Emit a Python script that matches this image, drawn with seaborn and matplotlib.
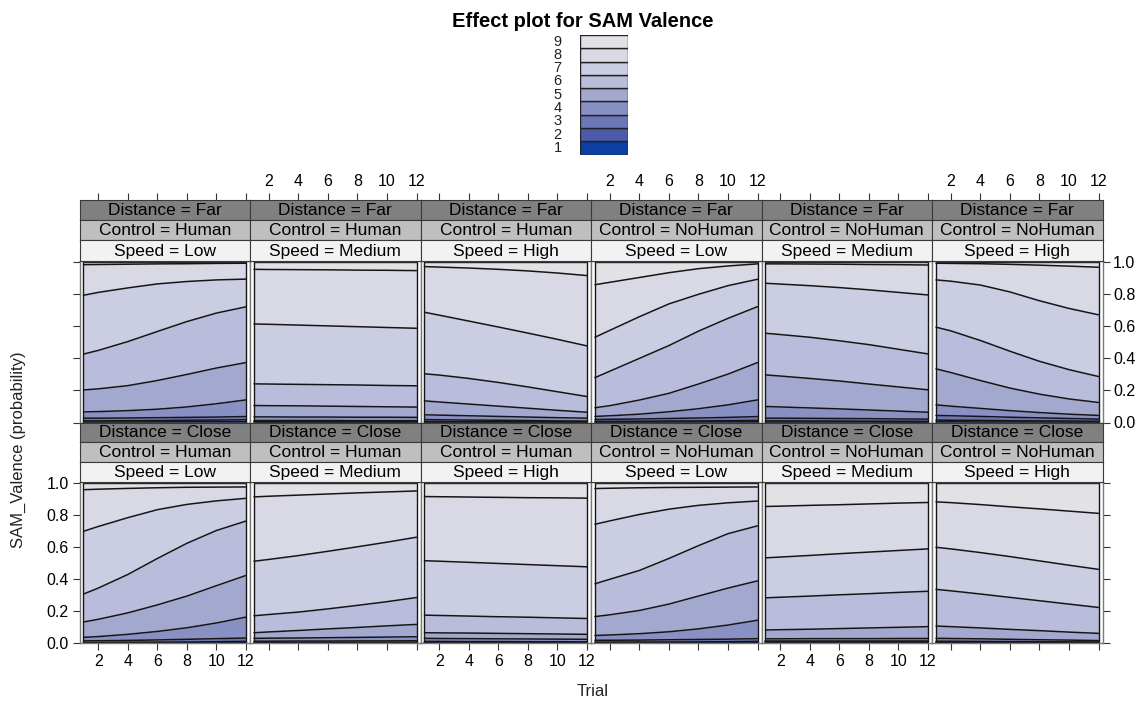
import numpy as np
import pandas as pd
import matplotlib
matplotlib.use("Agg")
import matplotlib.pyplot as plt
import seaborn as sns

# ---------------------------------------------------------------- data
trials = [1, 2, 4, 6, 8, 10, 12]
levels = ["1", "2", "3", "4", "5", "6", "7", "8", "9"]
tick_trials = [2, 4, 6, 8, 10, 12]
y_ticks = [0.0, 0.2, 0.4, 0.6, 0.8, 1.0]

distance_levels = ["Far", "Close"]
control_levels = ["Human", "Human", "Human", "NoHuman", "NoHuman", "NoHuman"]
speed_levels = ["Low", "Medium", "High", "Low", "Medium", "High"]

# cumulative probabilities P(SAM_Valence <= k), k = 1..8, at each trial
far_human_low = [
    [.003, .003, .003, .004, .004, .005, .005],
    [.010, .010, .011, .012, .014, .015, .017],
    [.027, .027, .028, .030, .032, .034, .037],
    [.066, .068, .074, .083, .097, .117, .141],
    [.203, .210, .230, .262, .300, .340, .374],
    [.427, .450, .505, .568, .630, .683, .722],
    [.794, .812, .840, .865, .880, .890, .895],
    [.985, .986, .988, .990, .991, .993, .994],
]
far_human_medium = [
    [.001, .001, .001, .001, .001, .001, .001],
    [.004, .004, .004, .004, .004, .004, .004],
    [.012, .012, .012, .012, .011, .011, .011],
    [.035, .035, .034, .034, .033, .033, .032],
    [.106, .105, .104, .102, .100, .098, .096],
    [.241, .240, .238, .236, .234, .231, .229],
    [.615, .613, .608, .603, .598, .593, .588],
    [.956, .955, .954, .953, .951, .950, .948],
]
far_human_high = [
    [.002, .002, .002, .001, .001, .001, .001],
    [.006, .006, .005, .005, .004, .004, .003],
    [.018, .017, .015, .014, .012, .010, .009],
    [.048, .046, .042, .038, .034, .030, .027],
    [.135, .128, .115, .102, .089, .076, .064],
    [.304, .296, .275, .250, .222, .192, .162],
    [.688, .670, .633, .596, .558, .519, .478],
    [.973, .970, .964, .956, .946, .933, .917],
]
far_nohuman_low = [
    [.002, .002, .002, .003, .003, .004, .004],
    [.007, .007, .008, .009, .010, .011, .013],
    [.019, .020, .022, .025, .028, .032, .037],
    [.038, .042, .052, .067, .086, .110, .141],
    [.092, .105, .140, .182, .240, .302, .374],
    [.280, .320, .400, .480, .570, .650, .723],
    [.532, .575, .660, .740, .800, .854, .894],
    [.860, .875, .905, .935, .960, .977, .990],
]
far_nohuman_medium = [
    [.003, .003, .003, .003, .003, .002, .002],
    [.010, .010, .009, .009, .008, .008, .007],
    [.027, .027, .026, .025, .024, .022, .021],
    [.100, .097, .091, .085, .078, .071, .064],
    [.297, .290, .275, .259, .240, .222, .204],
    [.557, .549, .532, .510, .486, .457, .428],
    [.869, .864, .854, .842, .828, .812, .796],
    [.990, .990, .989, .988, .986, .985, .983],
]
far_nohuman_high = [
    [.004, .004, .003, .003, .003, .002, .002],
    [.015, .014, .013, .011, .010, .009, .008],
    [.044, .042, .038, .033, .029, .025, .021],
    [.110, .102, .088, .074, .062, .052, .044],
    [.335, .312, .262, .215, .177, .147, .125],
    [.595, .572, .512, .445, .382, .330, .287],
    [.890, .882, .858, .815, .760, .712, .672],
    [.994, .993, .991, .987, .982, .976, .969],
]
close_human_low = [
    [.001, .001, .002, .002, .003, .003, .004],
    [.005, .005, .006, .007, .008, .010, .012],
    [.015, .016, .018, .021, .025, .029, .033],
    [.037, .042, .056, .074, .097, .127, .164],
    [.133, .150, .190, .240, .295, .360, .424],
    [.308, .345, .430, .530, .625, .705, .764],
    [.700, .730, .785, .835, .868, .890, .906],
    [.960, .963, .968, .972, .975, .976, .977],
]
close_human_medium = [
    [.002, .002, .002, .002, .002, .002, .002],
    [.005, .005, .005, .006, .006, .006, .006],
    [.013, .013, .014, .014, .015, .015, .016],
    [.031, .032, .033, .035, .037, .039, .041],
    [.066, .071, .080, .090, .099, .109, .118],
    [.172, .180, .195, .215, .237, .260, .286],
    [.513, .524, .548, .575, .603, .632, .663],
    [.915, .919, .926, .933, .940, .946, .952],
]
close_human_high = [
    [.001, .001, .001, .001, .001, .001, .001],
    [.004, .004, .004, .004, .003, .003, .003],
    [.012, .012, .011, .011, .010, .010, .009],
    [.031, .030, .029, .028, .027, .026, .025],
    [.066, .065, .064, .062, .060, .058, .056],
    [.176, .174, .170, .166, .163, .159, .155],
    [.516, .513, .506, .499, .492, .485, .478],
    [.917, .916, .914, .912, .910, .909, .907],
]
close_nohuman_low = [
    [.002, .002, .002, .003, .003, .003, .004],
    [.007, .007, .008, .008, .009, .010, .012],
    [.019, .019, .020, .022, .024, .026, .029],
    [.049, .052, .060, .072, .090, .114, .144],
    [.167, .178, .205, .245, .295, .345, .390],
    [.372, .400, .455, .530, .610, .685, .734],
    [.744, .765, .805, .838, .862, .878, .889],
    [.967, .969, .972, .974, .975, .976, .977],
]
close_nohuman_medium = [
    [.002, .002, .002, .002, .002, .002, .002],
    [.005, .005, .005, .005, .005, .005, .005],
    [.015, .015, .015, .015, .015, .015, .015],
    [.028, .028, .029, .029, .029, .030, .030],
    [.083, .085, .088, .092, .096, .100, .104],
    [.284, .288, .295, .303, .310, .318, .325],
    [.534, .539, .549, .560, .570, .580, .590],
    [.855, .857, .862, .866, .871, .876, .880],
]
close_nohuman_high = [
    [.003, .003, .003, .002, .002, .002, .002],
    [.006, .006, .006, .005, .005, .004, .004],
    [.013, .013, .012, .011, .010, .009, .008],
    [.031, .030, .028, .025, .022, .020, .017],
    [.108, .104, .096, .087, .079, .070, .062],
    [.337, .328, .308, .287, .266, .245, .224],
    [.600, .590, .567, .542, .515, .488, .462],
    [.884, .879, .867, .853, .840, .826, .812],
]

panel_rows = [
    [far_human_low, far_human_medium, far_human_high,
     far_nohuman_low, far_nohuman_medium, far_nohuman_high],
    [close_human_low, close_human_medium, close_human_high,
     close_nohuman_low, close_nohuman_medium, close_nohuman_high],
]

# band colours, level 1 (darkest) to level 9 (lightest)
band_colors = ["#0c3fa2", "#4b5ba9", "#6c77b6", "#8990c3", "#a3a8cf",
               "#b9bcda", "#cbcde2", "#d8d9e5", "#e1e1e6"]
strip_colors = ["#808080", "#bfbfbf", "#f2f2f2"]

# ---------------------------------------------------------------- style
sns.set_style("white")
plt.rcParams["font.family"] = ["Liberation Sans", "DejaVu Sans"]
plt.rcParams["text.color"] = "black"
plt.rcParams["axes.labelcolor"] = "black"

W, H = 1143, 703
fig = plt.figure(figsize=(W / 100, H / 100), dpi=100)


def rect(x0, y0, x1, y1):
    """pixel box (top-left origin) -> figure fraction [l, b, w, h]"""
    return [x0 / W, 1 - y1 / H, (x1 - x0) / W, (y1 - y0) / H]


left0, pw = 79.5, 170.5
xlim = (0.73, 12.27)
row_box = [(261.0, 422.5), (482.0, 643.3)]
strip_top = [199.5, 422.5]
tick_kw = dict(colors="#333333", width=0.8, length=4.7, labelsize=11.5,
               labelcolor="black")

for r, row in enumerate(panel_rows):
    top, bot = row_box[r]
    sh = (top - strip_top[r]) / 3.0
    for c, curves in enumerate(row):
        x0 = left0 + c * pw
        ax = fig.add_axes(rect(x0, top, x0 + pw, bot))
        cum = np.array(curves)
        bounds = np.vstack([np.zeros(len(trials)), cum, np.ones(len(trials))])
        for k in range(9):
            ax.fill_between(trials, bounds[k], bounds[k + 1],
                            color=band_colors[k], linewidth=0)
        long = pd.DataFrame({
            "Trial": np.tile(trials, 8),
            "prob": cum.ravel(),
            "boundary": np.repeat(levels[:8], len(trials)),
        })
        sns.lineplot(data=long, x="Trial", y="prob", units="boundary",
                     estimator=None, color="#151515", linewidth=1.1,
                     ax=ax, legend=False)
        # outline of the stacked region
        ax.plot([1, 1, 12, 12, 1], [0, 1, 1, 0, 0], color="#151515", lw=1.0)
        ax.set_xlim(*xlim)
        ax.set_ylim(0, 1.008)
        ax.set_xlabel("")
        ax.set_ylabel("")
        for s in ax.spines.values():
            s.set_color("#7a7a7a")
            s.set_linewidth(1.0)
        ax.set_yticks(y_ticks)
        ax.set_xticks(tick_trials)
        ax.tick_params(axis="both", **tick_kw)
        # x axis: bottom row only
        if r == 1:
            ax.tick_params(axis="x", bottom=True, labelbottom=(c % 2 == 0),
                           top=False, pad=3)
        else:
            ax.tick_params(axis="x", bottom=False, labelbottom=False)
        # y axis on the outer panels
        if c == 0:
            ax.tick_params(axis="y", left=True, labelleft=(r == 1),
                           right=False, labelright=False, pad=3)
        elif c == 5:
            ax.tick_params(axis="y", left=False, labelleft=False,
                           right=True, labelright=(r == 0), pad=3)
        else:
            ax.tick_params(axis="y", left=False, labelleft=False,
                           right=False, labelright=False)
        ax.set_yticklabels([f"{v:.1f}" for v in y_ticks])
        ax.set_xticklabels([str(t) for t in tick_trials])

        # strips: Distance / Control / Speed
        texts = [f"Distance = {distance_levels[r]}",
                 f"Control = {control_levels[c]}",
                 f"Speed = {speed_levels[c]}"]
        for s_i in range(3):
            sy0 = strip_top[r] + s_i * sh
            sax = fig.add_axes(rect(x0, sy0, x0 + pw, sy0 + sh))
            sax.set_facecolor(strip_colors[s_i])
            sax.set_xlim(*xlim)
            sax.set_ylim(0, 1)
            sax.set_yticks([])
            for s in sax.spines.values():
                s.set_color("#3a3a3a")
                s.set_linewidth(0.8)
            sax.text(0.5, 0.48, texts[s_i], transform=sax.transAxes,
                     ha="center", va="center", fontsize=12.5, color="black")
            if r == 0 and s_i == 0:
                sax.xaxis.tick_top()
                sax.set_xticks(tick_trials)
                sax.set_xticklabels([str(t) for t in tick_trials])
                sax.tick_params(axis="x", **tick_kw)
                sax.tick_params(axis="x", top=True, bottom=False,
                                labeltop=(c % 2 == 1), labelbottom=False,
                                pad=3)
            else:
                sax.set_xticks([])

# colour key
kax = fig.add_axes(rect(580, 35, 627.5, 154.5))
kax.barh(np.arange(1, 10), width=1.0, height=1.0, left=0,
         color=band_colors, edgecolor="#222222", linewidth=1.0)
kax.set_xlim(0, 1)
kax.set_ylim(0.5, 9.5)
kax.axis("off")
for i, lab in enumerate(levels):
    kax.text(-0.47, i + 1, lab, transform=kax.get_yaxis_transform(),
             ha="center", va="center", fontsize=10.5, color="#222222")

fig.text(583 / W, 1 - 21.5 / H, "Effect plot for SAM Valence",
         ha="center", va="center", fontsize=14.5, fontweight="bold",
         color="black")
fig.text(18 / W, 1 - 450 / H, "SAM_Valence (probability)", rotation=90,
         ha="center", va="center", fontsize=12, color="#222222")
fig.text(593 / W, 1 - 692 / H, "Trial", ha="center", va="center",
         fontsize=12, color="#222222")

fig.savefig("out.png", dpi=100)
